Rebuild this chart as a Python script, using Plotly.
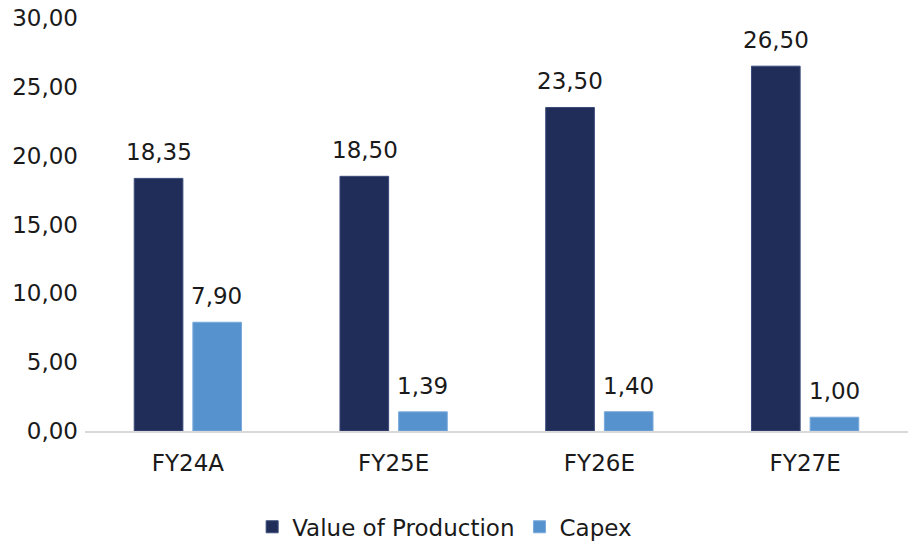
import plotly.graph_objects as go

# Data
years = ["FY24A", "FY25E", "FY26E", "FY27E"]
value_of_production = [18.35, 18.50, 23.50, 26.50]
capex = [7.90, 1.39, 1.40, 1.00]

DARK = "#212D59"
LIGHT = "#5692CE"
FONT = "'DejaVu Sans', sans-serif"
TXT = "#1a1a1a"
FS = 23

fig = go.Figure()

fig.add_trace(go.Bar(
    x=years, y=value_of_production,
    name="Value of Production",
    marker=dict(color=DARK, line=dict(color="#3A4A7A", width=1)),
))
fig.add_trace(go.Bar(
    x=years, y=capex,
    name="Capex",
    marker=dict(color=LIGHT, line=dict(color="#7AAADB", width=1)),
))

# value labels above each bar, a bit higher than plotly's "outside" text
for series, shift in ((value_of_production, -29), (capex, 29)):
    for yr, v in zip(years, series):
        fig.add_annotation(
            x=yr, y=v, text=f"{v:.2f}".replace(".", ","),
            showarrow=False, xshift=shift, yshift=26, yanchor="middle",
            font=dict(size=FS, color=TXT, family=FONT),
        )

fig.update_layout(
    width=909, height=549,
    margin=dict(l=85, r=1, t=18, b=113),
    paper_bgcolor="white", plot_bgcolor="white",
    font=dict(family=FONT, size=FS, color=TXT),
    separators=",.",
    barmode="group",
    bargap=0.43,
    bargroupgap=0.17,
    showlegend=True,
    legend=dict(orientation="h", x=0.437, xanchor="center", y=-0.232, yanchor="middle",
                font=dict(size=FS), itemwidth=30, traceorder="normal"),
)
fig.update_yaxes(range=[0, 30], dtick=5, tickformat=".2f", showgrid=False,
                 zeroline=False, showline=False, ticks="", automargin=False,
                 tickfont=dict(size=FS), ticklabelstandoff=6, ticklabeloverflow="allow")
fig.update_xaxes(showgrid=False, showline=True, linecolor="#D9D9D9", linewidth=2,
                 ticks="", automargin=False, tickfont=dict(size=FS), ticklabelstandoff=10)

# drop the browser's default 8px body margin so the figure fills the window
fig.write_html("out.html", config={"displayModeBar": False},
               post_script="document.body.style.margin='0';document.body.style.overflow='hidden';")
